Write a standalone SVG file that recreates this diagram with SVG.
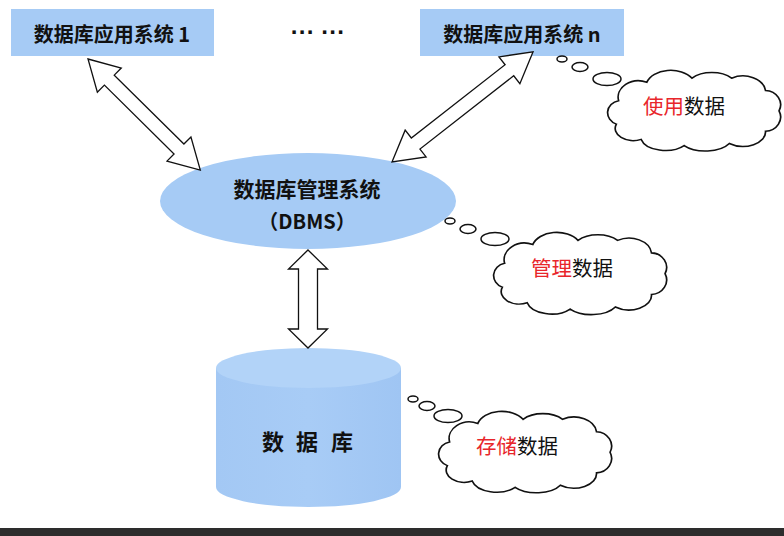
<svg xmlns="http://www.w3.org/2000/svg" width="784" height="536" viewBox="0 0 784 536">
<style>
.box{fill:#a6cbf5;}
.t{font-family:"Noto Sans CJK SC","Noto Sans",sans-serif;font-weight:bold;fill:#111;}
.ct{font-family:"Noto Sans CJK SC","Noto Sans",sans-serif;font-size:20.5px;fill:#111;}
.red{fill:#e8262b;}
.arr{fill:#fff;stroke:#111;stroke-width:1.3;stroke-linejoin:miter;}
.cloud{fill:#fff;stroke:#111;stroke-width:1.5;}
.bub{fill:#fff;stroke:#111;stroke-width:1.5;}
</style>
<defs>
<linearGradient id="cyl" x1="0" y1="0" x2="1" y2="0">
<stop offset="0" stop-color="#a3c8f4"/>
<stop offset="0.5" stop-color="#a8ccf6"/>
<stop offset="1" stop-color="#9fc5f3"/>
</linearGradient>
<path id="cloudp" d="M20,32 A18,16 0 0 1 45,14 A22,16 0 0 1 85,10 A22,14 0 0 1 120,10 A20,16 0 0 1 150,22 A14,14 0 0 1 162,42 A14,14 0 0 1 150,62 A20,14 0 0 1 118,74 A24,14 0 0 1 78,76 A22,14 0 0 1 40,70 A16,12 0 0 1 18,55 A12,12 0 0 1 20,32 Z"/>
</defs>
<rect width="784" height="536" fill="#fff"/>
<rect x="0" y="528" width="784" height="8" fill="#2d2d2d"/>

<g id="app1">
<rect class="box" x="11" y="9" width="203" height="47"/>
<text class="t" x="112" y="33" font-size="20" text-anchor="middle" dominant-baseline="central">数据库应用系统 1</text>
</g>
<g id="dots">
<text x="318" y="31" font-family="Liberation Sans, sans-serif" font-weight="bold" font-size="24" fill="#111" text-anchor="middle" dominant-baseline="central">··· ···</text>
</g>
<g id="appn">
<rect class="box" x="420" y="9" width="204" height="47"/>
<text class="t" x="522" y="33" font-size="20" text-anchor="middle" dominant-baseline="central">数据库应用系统 n</text>
</g>
<g id="dbms">
<ellipse class="box" cx="308" cy="201" rx="148" ry="48"/>
<text class="t" x="307" y="188" font-size="21" text-anchor="middle" dominant-baseline="central">数据库管理系统</text>
<text class="t" x="307" y="220" font-size="20" text-anchor="middle" dominant-baseline="central">（DBMS）</text>
</g>
<g id="db">
<path d="M216,368 L216,487 A92.5,20 0 0 0 401,487 L401,368 Z" fill="url(#cyl)"/>
<ellipse cx="308.5" cy="368" rx="92.5" ry="20" fill="#b2d3f8"/>
<text class="t" x="273" y="440" font-size="22" text-anchor="middle" dominant-baseline="central">数</text>
<text class="t" x="307" y="440" font-size="22" text-anchor="middle" dominant-baseline="central">据</text>
<text class="t" x="342" y="440" font-size="22" text-anchor="middle" dominant-baseline="central">库</text>
</g>

<g id="connectors">
<path class="arr" transform="translate(88,59) rotate(44.7)" d="M0,0 L30,-17 L30,-7 L128,-7 L128,-17 L158,0 L128,17 L128,7 L30,7 L30,17 Z"/>
<path class="arr" transform="translate(392,162) rotate(-38)" d="M0,0 L30,-17 L30,-7 L149,-7 L149,-17 L179,0 L149,17 L149,7 L30,7 L30,17 Z"/>
<path class="arr" transform="translate(308,250) rotate(90)" d="M0,0 L19,-19.5 L19,-9.5 L79,-9.5 L79,-19.5 L98,0 L79,19.5 L79,9.5 L19,9.5 L19,19.5 Z"/>
</g>

<g id="cloud-use">
<ellipse class="bub" cx="562" cy="59" rx="5" ry="3"/>
<ellipse class="bub" cx="580" cy="67" rx="8" ry="4.5"/>
<ellipse class="bub" cx="607" cy="79" rx="14" ry="6.5"/>
<use href="#cloudp" class="cloud" transform="translate(596,68) scale(1.13,1.02)"/>
<text class="ct" x="684" y="105" text-anchor="middle" dominant-baseline="central"><tspan class="red">使用</tspan>数据</text>
</g>
<g id="cloud-manage">
<ellipse class="bub" cx="450" cy="221" rx="5" ry="3"/>
<ellipse class="bub" cx="468" cy="229" rx="8" ry="4.5"/>
<ellipse class="bub" cx="495" cy="239" rx="14" ry="6.5"/>
<use href="#cloudp" class="cloud" transform="translate(482,230) scale(1.13,1.04)"/>
<text class="ct" x="572" y="267" text-anchor="middle" dominant-baseline="central"><tspan class="red">管理</tspan>数据</text>
</g>
<g id="cloud-store">
<ellipse class="bub" cx="413" cy="399" rx="5" ry="3"/>
<ellipse class="bub" cx="427" cy="406" rx="8" ry="4.5"/>
<ellipse class="bub" cx="448" cy="416" rx="14" ry="6.5"/>
<use href="#cloudp" class="cloud" transform="translate(427,409) scale(1.13,1.03)"/>
<text class="ct" x="517" y="445" text-anchor="middle" dominant-baseline="central"><tspan class="red">存储</tspan>数据</text>
</g>
</svg>
